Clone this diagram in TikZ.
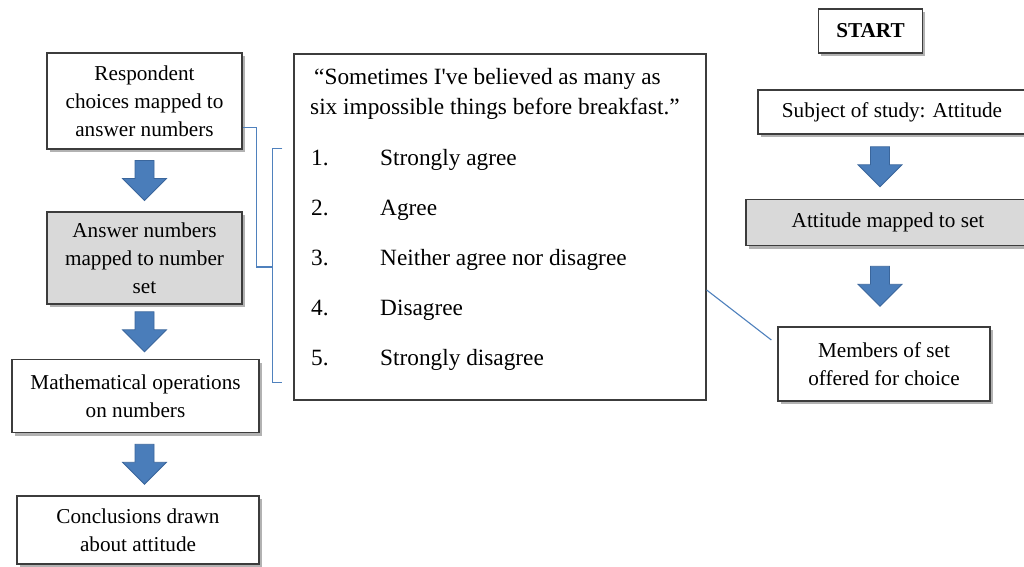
\documentclass[tikz,border=0pt]{standalone}
\usepackage{fontspec}
\setmainfont{Liberation Serif}
\usetikzlibrary{calc,shadows}
\definecolor{boxline}{HTML}{3C3C3C}
\definecolor{grayfill}{HTML}{D9D9D9}
\definecolor{linkblue}{HTML}{4F81BD}
\definecolor{arrowfill}{HTML}{4A7DBA}
\definecolor{arrowline}{HTML}{3A669C}
\tikzset{
  flowbox/.style={draw=boxline, line width=1.3pt, fill=white, align=center, inner sep=0pt,
    font=\fontsize{21.2}{28}\selectfont,
    drop shadow={shadow xshift=2.5pt, shadow yshift=-3pt, opacity=0.3, fill=black}},
  grayboxstyle/.style={flowbox, fill=grayfill},
  listtext/.style={anchor=base west, inner sep=0pt, font=\fontsize{23.3}{30}\selectfont},
  link/.style={draw=linkblue, line width=1.1pt},
  blockarrow/.style={fill=arrowfill, draw=arrowline, line width=0.8pt, line join=miter},
  downarrow/.pic={\path[blockarrow] (-9.5,-20) -- (9.5,-20) -- (9.5,-2) -- (22,-2) -- (0,20) -- (-22,-2) -- (-9.5,-2) -- cycle;}
}
\begin{document}
\begin{tikzpicture}[x=1pt, y=-1pt]
\useasboundingbox (0,0) rectangle (1024,566);
\clip (0,0) rectangle (1024,566);
\fill[white] (0,0) rectangle (1024,566);
% left column
\node[flowbox, minimum width=195pt, minimum height=96pt] (resp) at (144.5,101) {Respondent\\choices mapped to\\answer numbers};
\node[grayboxstyle, minimum width=195pt, minimum height=92pt] (ans) at (144.5,258) {Answer numbers\\mapped to number\\set};
\node[flowbox, minimum width=247pt, minimum height=73pt] (math) at (135.5,396) {Mathematical operations\\on numbers};
\node[flowbox, minimum width=242pt, minimum height=68pt] (concl) at (138,530) {Conclusions drawn\\about attitude};
% quote box
\node[draw=boxline, line width=1.3pt, minimum width=412pt, minimum height=346pt, inner sep=0pt] (quote) at (500,227) {};
\node[listtext] (q1) at (314,84) {“Sometimes I\textquotesingle ve believed as many as};
\node[listtext] (q2) at (310,114) {six impossible things before breakfast.”};
\node[listtext] (n1) at (311,165) {1.};
\node[listtext] (t1) at (380,165) {Strongly agree};
\node[listtext] (n2) at (311,215) {2.};
\node[listtext] (t2) at (380,215) {Agree};
\node[listtext] (n3) at (311,265) {3.};
\node[listtext] (t3) at (380,265) {Neither agree nor disagree};
\node[listtext] (n4) at (311,315) {4.};
\node[listtext] (t4) at (380,315) {Disagree};
\node[listtext] (n5) at (311,365) {5.};
\node[listtext] (t5) at (380,365) {Strongly disagree};
% right column
\node[flowbox, font=\bfseries\fontsize{21.2}{28}\selectfont, minimum width=104pt, minimum height=44pt] (start) at (870.5,31) {START};
\node[flowbox, minimum width=268pt, minimum height=44pt] (subj) at (892,112) {Subject of study: Attitude};
\node[grayboxstyle, minimum width=284pt, minimum height=46pt] (att) at (888,222.5) {Attitude mapped to set};
\node[flowbox, minimum width=212pt, minimum height=74pt] (members) at (884,364) {Members of set\\offered for choice};
% block arrows
\coordinate (m1) at ($(resp.south)!0.5!(ans.north)$);
\coordinate (m2) at ($(ans.south)!0.5!(math.north)$);
\coordinate (m3) at ($(math.south)!0.5!(concl.north)$);
\coordinate (m4) at ($(subj.south)!0.5!(att.north)$);
\coordinate (m5) at ($(att.south)!0.5!(members.north)$);
\pic at (m1) {downarrow};
\pic at (m2 -| ans.south) {downarrow};
\pic at (m3 -| ans.south) {downarrow};
\pic at ($(m4 -| members.north)+(-4,0)$) {downarrow};
\pic at ($(m5 -| members.north)+(-4,0)$) {downarrow};
% connectors
\draw[link] ($(quote.north west)+(-11,95)$) -- ++(-10,0) |- ($(quote.south west)+(-11,-18)$);
\draw[link] ($(resp.south east)+(0,-22)$) -- ++(14,0) |- ($(quote.west)+(-21,40)$);
\draw[link] ($(quote.east)+(0,63)$) -- ($(members.west)+(-6,-24)$);
\end{tikzpicture}
\end{document}
